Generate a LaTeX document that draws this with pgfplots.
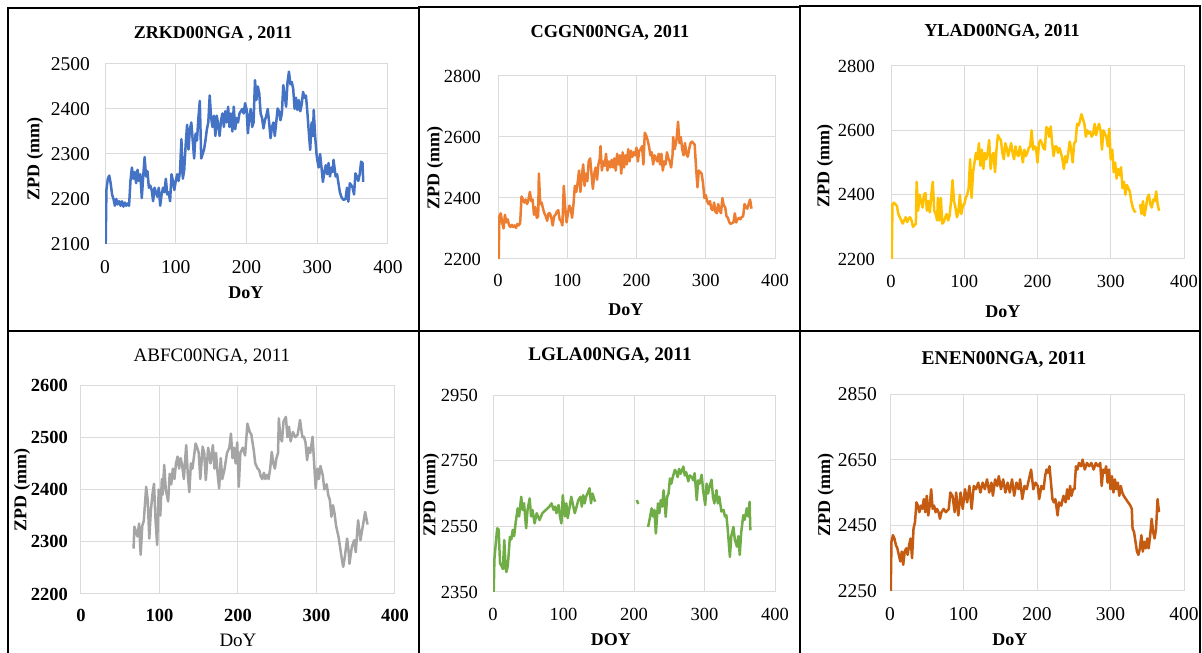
\documentclass[border=0pt]{standalone}
\usepackage{fontspec}
\setmainfont{Liberation Serif}
\usepackage{pgfplots}
\usepackage{pgfplotstable}
\pgfplotsset{compat=1.18}
\definecolor{cblue}{HTML}{4472C4}
\definecolor{corange}{HTML}{ED7D31}
\definecolor{cgold}{HTML}{FFC000}
\definecolor{cgray}{HTML}{A5A5A5}
\definecolor{cgreen}{HTML}{70AD47}
\definecolor{cdorange}{HTML}{C55A11}
\pgfplotsset{
  zpd/.style={
    scale only axis, xmin=0, xmax=400, xtick={0,100,200,300,400},
    grid=major, major grid style={draw=black!14, line width=1pt},
    axis line style={draw=black!14, line width=1pt},
    major tick length=0pt,
    tick label style={font=\fontsize{18.5}{20}\selectfont},
    /pgf/number format/assume math mode=true,
    /pgf/number format/1000 sep={},
    yticklabel style={inner sep=0pt, anchor=east},
    xticklabel style={inner sep=0pt, anchor=north},
    title style={font=\bfseries\fontsize{18.3}{20}\selectfont, anchor=center, yshift=-7pt},
    xlabel style={font=\bfseries\fontsize{18}{20}\selectfont, anchor=center},
    ylabel style={font=\bfseries\fontsize{18}{20}\selectfont, anchor=center},
    every axis plot/.append style={line width=2.5pt, no markers, line join=round},
    unbounded coords=jump,
  }
}
\pgfplotstableread[row sep=\\]{x y\\
1 2100\\ 2 2220\\ 4 2245\\ 6 2252\\ 8 2235\\ 10 2210\\ 12 2200\\ 14 2185\\ 16 2200\\ 18 2188\\ 20 2195\\ 22 2185\\ 24 2195\\ 26 2183\\ 28 2192\\ 30 2185\\ 32 2190\\ 34 2185\\ 36 2240\\ 38 2270\\ 40 2245\\ 42 2260\\ 44 2235\\ 46 2265\\ 48 2240\\ 50 2255\\ 52 2202\\ 54 2250\\ 56 2293\\ 58 2250\\ 60 2262\\ 62 2225\\ 64 2230\\ 66 2220\\ 68 2195\\ 70 2225\\ 72 2215\\ 74 2205\\ 76 2225\\ 78 2185\\ 80 2210\\ 82 2225\\ 84 2215\\ 86 2245\\ 88 2210\\ 90 2215\\ 92 2195\\ 94 2255\\ 96 2240\\ 98 2220\\ 100 2240\\ 102 2255\\ 104 2240\\ 106 2260\\ 108 2333\\ 110 2245\\ 112 2265\\ 114 2320\\ 116 2365\\ 118 2310\\ 120 2355\\ 122 2370\\ 124 2330\\ 126 2290\\ 128 2345\\ 130 2330\\ 132 2380\\ 134 2418\\ 136 2290\\ 138 2300\\ 140 2310\\ 142 2330\\ 144 2355\\ 146 2370\\ 148 2430\\ 150 2380\\ 152 2360\\ 154 2385\\ 156 2340\\ 158 2385\\ 160 2365\\ 162 2340\\ 164 2375\\ 166 2390\\ 168 2360\\ 170 2395\\ 172 2370\\ 174 2405\\ 176 2360\\ 178 2390\\ 180 2350\\ 182 2405\\ 184 2355\\ 186 2380\\ 188 2370\\ 190 2390\\ 192 2395\\ 194 2400\\ 196 2390\\ 198 2413\\ 200 2400\\ 202 2346\\ 204 2385\\ 206 2400\\ 208 2360\\ 210 2370\\ 212 2464\\ 214 2420\\ 216 2450\\ 218 2435\\ 220 2390\\ 222 2380\\ 224 2357\\ 226 2375\\ 228 2385\\ 230 2400\\ 232 2370\\ 234 2335\\ 236 2360\\ 238 2370\\ 240 2340\\ 242 2370\\ 244 2401\\ 246 2395\\ 248 2375\\ 250 2390\\ 252 2453\\ 254 2430\\ 256 2405\\ 258 2460\\ 260 2483\\ 262 2455\\ 264 2460\\ 266 2445\\ 268 2400\\ 270 2425\\ 272 2398\\ 274 2420\\ 276 2395\\ 278 2410\\ 280 2438\\ 282 2425\\ 284 2430\\ 286 2394\\ 288 2350\\ 290 2309\\ 292 2370\\ 294 2340\\ 295 2398\\ 297 2340\\ 299 2300\\ 300 2287\\ 302 2270\\ 304 2300\\ 306 2270\\ 308 2238\\ 310 2260\\ 312 2275\\ 314 2255\\ 316 2280\\ 318 2250\\ 320 2270\\ 322 2260\\ 323 2287\\ 326 2250\\ 328 2255\\ 330 2235\\ 332 2215\\ 334 2205\\ 337 2198\\ 340 2200\\ 342 2225\\ 344 2194\\ 346 2235\\ 348 2231\\ 350 2225\\ 352 2210\\ 354 2257\\ 356 2250\\ 358 2240\\ 360 2255\\ 362 2283\\ 364 2280\\ 365 2238\\
}\zrkd
\pgfplotstableread[row sep=\\]{x y\\
1 2200\\ 2 2340\\ 4 2350\\ 6 2320\\ 8 2300\\ 10 2345\\ 12 2320\\ 14 2330\\ 16 2310\\ 18 2305\\ 20 2312\\ 22 2305\\ 24 2310\\ 26 2302\\ 28 2315\\ 30 2310\\ 32 2318\\ 34 2405\\ 36 2395\\ 38 2385\\ 40 2395\\ 42 2380\\ 44 2395\\ 46 2420\\ 48 2390\\ 50 2395\\ 52 2345\\ 54 2370\\ 56 2335\\ 58 2340\\ 59 2480\\ 61 2380\\ 63 2385\\ 65 2365\\ 67 2350\\ 69 2340\\ 71 2325\\ 73 2350\\ 75 2350\\ 77 2335\\ 79 2310\\ 81 2340\\ 83 2345\\ 85 2355\\ 87 2360\\ 89 2330\\ 91 2325\\ 93 2310\\ 95 2440\\ 97 2370\\ 99 2320\\ 101 2350\\ 103 2375\\ 105 2365\\ 107 2335\\ 109 2380\\ 111 2440\\ 113 2420\\ 115 2450\\ 117 2490\\ 119 2420\\ 121 2470\\ 123 2510\\ 125 2440\\ 127 2480\\ 129 2455\\ 131 2520\\ 133 2530\\ 135 2480\\ 137 2430\\ 139 2480\\ 141 2500\\ 143 2460\\ 145 2510\\ 147 2530\\ 148 2570\\ 150 2490\\ 152 2520\\ 154 2505\\ 156 2545\\ 158 2490\\ 160 2520\\ 162 2500\\ 164 2525\\ 166 2500\\ 168 2530\\ 170 2490\\ 172 2545\\ 174 2510\\ 176 2540\\ 178 2480\\ 180 2550\\ 182 2500\\ 184 2540\\ 186 2510\\ 188 2560\\ 190 2520\\ 192 2555\\ 194 2535\\ 196 2550\\ 198 2540\\ 200 2565\\ 202 2520\\ 204 2555\\ 206 2560\\ 208 2570\\ 210 2510\\ 212 2614\\ 214 2605\\ 216 2590\\ 218 2570\\ 220 2540\\ 222 2550\\ 224 2510\\ 226 2540\\ 228 2530\\ 230 2520\\ 232 2545\\ 234 2510\\ 236 2545\\ 238 2490\\ 240 2520\\ 242 2510\\ 244 2550\\ 246 2530\\ 248 2520\\ 250 2500\\ 252 2540\\ 253 2600\\ 255 2560\\ 257 2580\\ 258 2595\\ 260 2650\\ 262 2580\\ 264 2600\\ 266 2560\\ 268 2540\\ 270 2580\\ 272 2545\\ 274 2535\\ 276 2560\\ 278 2580\\ 280 2585\\ 282 2580\\ 284 2575\\ 286 2500\\ 288 2435\\ 290 2490\\ 292 2485\\ 294 2480\\ 296 2450\\ 298 2400\\ 300 2410\\ 302 2390\\ 304 2380\\ 306 2390\\ 308 2365\\ 310 2360\\ 312 2385\\ 314 2355\\ 316 2350\\ 318 2380\\ 320 2360\\ 322 2350\\ 324 2400\\ 326 2375\\ 328 2370\\ 330 2340\\ 332 2335\\ 334 2320\\ 336 2315\\ 338 2318\\ 340 2320\\ 342 2350\\ 344 2320\\ 346 2330\\ 348 2335\\ 350 2330\\ 352 2338\\ 354 2340\\ 356 2380\\ 358 2370\\ 360 2365\\ 362 2380\\ 364 2395\\ 366 2365\\
}\cggn
\pgfplotstableread[row sep=\\]{x y\\
1 2200\\ 2 2370\\ 4 2375\\ 6 2370\\ 8 2365\\ 10 2340\\ 12 2330\\ 14 2320\\ 16 2310\\ 18 2320\\ 20 2330\\ 22 2315\\ 24 2325\\ 26 2330\\ 28 2320\\ 30 2300\\ 32 2305\\ 34 2310\\ 35 2440\\ 37 2350\\ 39 2400\\ 41 2380\\ 43 2360\\ 45 2400\\ 47 2405\\ 49 2350\\ 51 2380\\ 53 2345\\ 55 2400\\ 57 2440\\ 59 2350\\ 61 2340\\ 63 2320\\ 64 2390\\ 66 2320\\ 68 2390\\ 70 2310\\ 72 2315\\ 74 2330\\ 76 2340\\ 78 2320\\ 80 2335\\ 82 2380\\ 84 2445\\ 86 2380\\ 88 2360\\ 90 2330\\ 92 2345\\ 94 2400\\ 96 2340\\ 98 2365\\ 100 2370\\ 102 2390\\ 104 2400\\ 106 2420\\ 108 2510\\ 110 2390\\ 112 2470\\ 114 2500\\ 116 2530\\ 118 2510\\ 120 2560\\ 122 2490\\ 124 2540\\ 126 2480\\ 128 2530\\ 130 2510\\ 132 2530\\ 134 2570\\ 136 2480\\ 138 2520\\ 140 2530\\ 142 2470\\ 144 2540\\ 146 2585\\ 148 2575\\ 150 2570\\ 152 2530\\ 154 2510\\ 156 2560\\ 158 2545\\ 160 2520\\ 162 2540\\ 164 2560\\ 166 2530\\ 168 2510\\ 170 2550\\ 172 2525\\ 174 2520\\ 176 2550\\ 178 2530\\ 180 2500\\ 182 2540\\ 184 2520\\ 186 2530\\ 188 2545\\ 190 2550\\ 192 2600\\ 194 2540\\ 196 2550\\ 198 2545\\ 200 2500\\ 202 2560\\ 204 2570\\ 206 2560\\ 208 2545\\ 210 2540\\ 212 2610\\ 214 2605\\ 216 2580\\ 218 2612\\ 220 2560\\ 222 2520\\ 224 2550\\ 226 2550\\ 228 2530\\ 230 2545\\ 232 2530\\ 234 2510\\ 236 2480\\ 238 2520\\ 240 2500\\ 242 2530\\ 244 2565\\ 246 2540\\ 248 2500\\ 250 2560\\ 252 2565\\ 254 2620\\ 256 2615\\ 258 2630\\ 260 2650\\ 262 2635\\ 264 2620\\ 266 2580\\ 268 2600\\ 270 2590\\ 272 2595\\ 274 2580\\ 276 2590\\ 278 2620\\ 280 2585\\ 282 2605\\ 284 2620\\ 286 2600\\ 288 2540\\ 290 2600\\ 292 2590\\ 294 2580\\ 296 2550\\ 298 2605\\ 300 2510\\ 302 2540\\ 304 2470\\ 306 2500\\ 308 2450\\ 310 2480\\ 312 2460\\ 314 2485\\ 316 2420\\ 318 2440\\ 320 2400\\ 322 2430\\ 324 2420\\ 326 2410\\ 328 2380\\ 330 2360\\ 332 2350\\ 334 2345\\ 336 nan\\ 340 2370\\ 342 2340\\ 344 2380\\ 346 2335\\ 348 2360\\ 350 2390\\ 352 2400\\ 354 2370\\ 356 2360\\ 358 2385\\ 360 2380\\ 362 2410\\ 364 2370\\ 366 2350\\
}\ylad
\pgfplotstableread[row sep=\\]{x y\\
67 2287\\ 68 2329\\ 70 2320\\ 72 2310\\ 74 2335\\ 76 2275\\ 78 2330\\ 80 2340\\ 83 2405\\ 85 2380\\ 87 2306\\ 89 2360\\ 91 2390\\ 93 2411\\ 95 2340\\ 97 2294\\ 99 2400\\ 101 2350\\ 103 2420\\ 104 2390\\ 106 2447\\ 108 2400\\ 111 2377\\ 113 2430\\ 115 2410\\ 117 2440\\ 119 2420\\ 121 2450\\ 123 2463\\ 125 2440\\ 127 2460\\ 129 2445\\ 131 2420\\ 134 2485\\ 136 2430\\ 138 2395\\ 140 2450\\ 142 2440\\ 146 2488\\ 148 2480\\ 150 2470\\ 152 2420\\ 155 2482\\ 157 2470\\ 159 2418\\ 162 2480\\ 165 2450\\ 168 2485\\ 170 2440\\ 172 2470\\ 174 2430\\ 176 2402\\ 178 2460\\ 180 2420\\ 183 2440\\ 186 2470\\ 189 2480\\ 191 2507\\ 193 2460\\ 195 2480\\ 197 2450\\ 199 2490\\ 201 2405\\ 203 2470\\ 206 2480\\ 209 2465\\ 212 2526\\ 215 2510\\ 217 2505\\ 220 2476\\ 222 2450\\ 225 2440\\ 227 2437\\ 229 2425\\ 231 2420\\ 233 2432\\ 235 2420\\ 237 2428\\ 239 2420\\ 241 2440\\ 243 2472\\ 245 2450\\ 247 2440\\ 249 2460\\ 251 2470\\ 252 2536\\ 254 2500\\ 256 2492\\ 258 2530\\ 261 2539\\ 263 2500\\ 265 2520\\ 267 2492\\ 270 2510\\ 273 2500\\ 276 2505\\ 279 2533\\ 282 2500\\ 284 2501\\ 286 2490\\ 288 2456\\ 290 2480\\ 292 2470\\ 295 2501\\ 297 2450\\ 299 2402\\ 301 2440\\ 303 2420\\ 305 2445\\ 308 2427\\ 310 2400\\ 313 2410\\ 315 2389\\ 317 2380\\ 319 2348\\ 321 2370\\ 323 2354\\ 325 2330\\ 328 2310\\ 330 2290\\ 332 2270\\ 334 2252\\ 336 2270\\ 339 2306\\ 341 2280\\ 342 2258\\ 345 2290\\ 348 2303\\ 350 2280\\ 353 2341\\ 356 2303\\ 359 2330\\ 362 2357\\ 365 2333\\
}\abfc
\pgfplotstableread[row sep=\\]{x y\\
1 2350\\ 2 2450\\ 4 2500\\ 6 2544\\ 8 2540\\ 10 2437\\ 12 2430\\ 14 2420\\ 16 2508\\ 18 2420\\ 19 2411\\ 21 2430\\ 24 2518\\ 26 2510\\ 28 2539\\ 30 2520\\ 32 2559\\ 35 2605\\ 37 2580\\ 40 2640\\ 42 2600\\ 44 2620\\ 47 2544\\ 49 2600\\ 52 2635\\ 54 2580\\ 56 2600\\ 59 2559\\ 62 2590\\ 66 2569\\ 70 2590\\ 75 2600\\ 80 2610\\ 83 2620\\ 86 2600\\ 88 2610\\ 90 2590\\ 93 2615\\ 95 2580\\ 97 2559\\ 99 2645\\ 102 2580\\ 104 2620\\ 106 2575\\ 108 2600\\ 111 2640\\ 113 2620\\ 116 2590\\ 118 2605\\ 121 2630\\ 124 2640\\ 126 2610\\ 128 2645\\ 130 2620\\ 132 2640\\ 134 2650\\ 137 2666\\ 139 2620\\ 141 2650\\ 144 2630\\ 145 2625\\ 147 nan\\ 204 2630\\ 206 2618\\ 210 nan\\ 220 2548\\ 222 2570\\ 225 2605\\ 227 2580\\ 229 2600\\ 231 2528\\ 234 2620\\ 236 2590\\ 238 2630\\ 240 2610\\ 242 2660\\ 245 2579\\ 247 2640\\ 249 2650\\ 251 2696\\ 253 2680\\ 255 2700\\ 258 2722\\ 260 2715\\ 262 2700\\ 264 2725\\ 266 2710\\ 268 2720\\ 270 2732\\ 272 2705\\ 274 2715\\ 277 2687\\ 279 2705\\ 282 2700\\ 284 2690\\ 286 2712\\ 289 2630\\ 291 2690\\ 293 2680\\ 296 2707\\ 298 2660\\ 301 2615\\ 303 2680\\ 305 2650\\ 307 2670\\ 310 2692\\ 312 2640\\ 314 2620\\ 317 2660\\ 319 2620\\ 321 2640\\ 324 2595\\ 327 2600\\ 329 2580\\ 331 2584\\ 333 2540\\ 336 2457\\ 338 2520\\ 341 2548\\ 343 2510\\ 346 2488\\ 348 2520\\ 350 2463\\ 352 2530\\ 355 2584\\ 357 2570\\ 360 2605\\ 362 2580\\ 364 2625\\ 365 2538\\
}\lgla
\pgfplotstableread[row sep=\\]{x y\\
1 2250\\ 2 2400\\ 4 2420\\ 6 2410\\ 8 2390\\ 10 2380\\ 12 2360\\ 14 2340\\ 16 2370\\ 18 2330\\ 20 2370\\ 22 2380\\ 24 2360\\ 26 2390\\ 28 2410\\ 30 2350\\ 32 2440\\ 34 2460\\ 36 2520\\ 38 2510\\ 40 2490\\ 42 2510\\ 44 2500\\ 46 2530\\ 48 2490\\ 50 2540\\ 52 2480\\ 54 2510\\ 56 2560\\ 58 2500\\ 60 2510\\ 62 2490\\ 64 2500\\ 66 2490\\ 68 2470\\ 70 2490\\ 73 2500\\ 76 2490\\ 80 2500\\ 82 2550\\ 85 2540\\ 88 2490\\ 90 2550\\ 93 2480\\ 96 2550\\ 99 2500\\ 102 2560\\ 105 2520\\ 108 2570\\ 111 2500\\ 114 2570\\ 117 2560\\ 120 2580\\ 123 2550\\ 126 2580\\ 129 2560\\ 132 2590\\ 135 2550\\ 138 2580\\ 140 2540\\ 143 2590\\ 146 2570\\ 148 2600\\ 151 2560\\ 154 2590\\ 157 2550\\ 160 2580\\ 163 2550\\ 166 2590\\ 169 2540\\ 172 2580\\ 175 2560\\ 177 2590\\ 180 2530\\ 183 2570\\ 186 2560\\ 189 2590\\ 192 2620\\ 195 2560\\ 198 2580\\ 201 2570\\ 203 2530\\ 206 2570\\ 209 2560\\ 211 2600\\ 213 2620\\ 215 2610\\ 217 2630\\ 219 2580\\ 221 2530\\ 223 2520\\ 225 2530\\ 228 2480\\ 230 2520\\ 233 2510\\ 236 2540\\ 239 2520\\ 241 2560\\ 243 2530\\ 245 2570\\ 247 2540\\ 249 2560\\ 251 2560\\ 253 2630\\ 255 2620\\ 257 2640\\ 260 2630\\ 262 2650\\ 265 2620\\ 268 2640\\ 271 2630\\ 274 2640\\ 277 2620\\ 280 2640\\ 283 2630\\ 286 2640\\ 288 2570\\ 290 2620\\ 292 2610\\ 294 2630\\ 296 2580\\ 298 2620\\ 300 2560\\ 302 2600\\ 304 2550\\ 306 2590\\ 308 2560\\ 310 2580\\ 312 2540\\ 314 2570\\ 316 2550\\ 318 2540\\ 321 2530\\ 324 2520\\ 327 2510\\ 329 2500\\ 330 2440\\ 332 2430\\ 334 2400\\ 336 2370\\ 338 2360\\ 340 2380\\ 342 2420\\ 344 2370\\ 346 2400\\ 348 2380\\ 350 2410\\ 352 2380\\ 354 2420\\ 356 2470\\ 358 2430\\ 360 2410\\ 362 2440\\ 364 2530\\ 366 2490\\
}\enen
\begin{document}
\begin{tikzpicture}[x=1pt,y=1pt]
\path[use as bounding box] (0,0) rectangle (1202,653);
% panel frames
\draw[line width=1.3pt] (8,645) rectangle (419,322);
\draw[line width=1.3pt] (419,646) rectangle (800,322);
\draw[line width=1.3pt] (800,647) rectangle (1200,322);
\draw[line width=1.3pt] (8,322) rectangle (419,-10);
\draw[line width=1.3pt] (419,322) rectangle (800,-10);
\draw[line width=1.3pt] (800,322) rectangle (1200,-10);
% 1
\begin{axis}[zpd, at={(105pt,409pt)}, anchor=south west, width=283pt, height=180pt,
  ymin=2100, ymax=2500, ytick={2100,2200,...,2500},
  tick label style={font=\fontsize{19.5}{21}\selectfont},
  yticklabel style={xshift=-15pt}, xticklabel style={yshift=-16pt},
  title={ZRKD00NGA , 2011}, title style={font=\bfseries\fontsize{18}{20}\selectfont, at={(axis description cs:0.382,1.172)}},
  xlabel={DoY}, xlabel style={at={(axis description cs:0.498,-0.272)}},
  ylabel={ZPD (mm)}, ylabel style={at={(axis description cs:-0.247,0.472)}}]
\addplot[cblue] table[x=x,y=y] {\zrkd};
\end{axis}
% 2
\begin{axis}[zpd, at={(498pt,394pt)}, anchor=south west, width=277pt, height=183pt,
  ymin=2200, ymax=2800, ytick={2200,2400,...,2800},
  yticklabel style={xshift=-17pt}, xticklabel style={yshift=-15pt},
  title={CGGN00NGA, 2011}, title style={at={(axis description cs:0.404,1.240)}},
  xlabel={DoY}, xlabel style={at={(axis description cs:0.462,-0.279)}},
  ylabel={ZPD (mm)}, ylabel style={at={(axis description cs:-0.227,0.497)}}]
\addplot[corange] table[x=x,y=y] {\cggn};
\end{axis}
% 3
\begin{axis}[zpd, at={(891pt,394pt)}, anchor=south west, width=293pt, height=193pt,
  ymin=2200, ymax=2800, ytick={2200,2400,...,2800},
  yticklabel style={xshift=-16pt}, xticklabel style={yshift=-16pt},
  title={YLAD00NGA, 2011}, title style={at={(axis description cs:0.379,1.181)}},
  xlabel={DoY}, xlabel style={at={(axis description cs:0.382,-0.275)}},
  ylabel={ZPD (mm)}, ylabel style={at={(axis description cs:-0.225,0.482)}}]
\addplot[cgold] table[x=x,y=y] {\ylad};
\end{axis}
% 4
\begin{axis}[zpd, at={(81pt,59pt)}, anchor=south west, width=314pt, height=209pt,
  ymin=2200, ymax=2600, ytick={2200,2300,...,2600},
  tick label style={font=\bfseries\fontsize{18.5}{20}\selectfont},
  yticklabel style={xshift=-13pt}, xticklabel style={yshift=-15pt},
  title={ABFC00NGA, 2011}, title style={font=\fontsize{19}{21}\selectfont, at={(axis description cs:0.417,1.139)}},
  xlabel={DoY}, xlabel style={font=\fontsize{19}{21}\selectfont, at={(axis description cs:0.5,-0.22)}},
  ylabel={ZPD (mm)}, ylabel style={at={(axis description cs:-0.188,0.498)}}]
\addplot[cgray] table[x=x,y=y] {\abfc};
\end{axis}
% 5
\begin{axis}[zpd, at={(493pt,61pt)}, anchor=south west, width=282pt, height=197pt,
  ymin=2350, ymax=2950, ytick={2350,2550,2750,2950},
  yticklabel style={xshift=-15pt}, xticklabel style={yshift=-16pt},
  title={LGLA00NGA, 2011}, title style={font=\bfseries\fontsize{19.2}{21}\selectfont, at={(axis description cs:0.415,1.203)}},
  xlabel={DOY}, xlabel style={at={(axis description cs:0.418,-0.244)}},
  ylabel={ZPD (mm)}, ylabel style={at={(axis description cs:-0.22,0.492)}}]
\addplot[cgreen] table[x=x,y=y] {\lgla};
\end{axis}
% 6
\begin{axis}[zpd, at={(890pt,62pt)}, anchor=south west, width=294pt, height=197pt,
  ymin=2250, ymax=2850, ytick={2250,2450,2650,2850},
  tick label style={font=\fontsize{19.5}{21}\selectfont},
  yticklabel style={xshift=-13pt}, xticklabel style={yshift=-16pt},
  title={ENEN00NGA, 2011}, title style={font=\bfseries\fontsize{19.5}{21}\selectfont, at={(axis description cs:0.388,1.178)}},
  xlabel={DoY}, xlabel style={at={(axis description cs:0.408,-0.249)}},
  ylabel={ZPD (mm)}, ylabel style={at={(axis description cs:-0.218,0.487)}}]
\addplot[cdorange] table[x=x,y=y] {\enen};
\end{axis}
\end{tikzpicture}
\end{document}
